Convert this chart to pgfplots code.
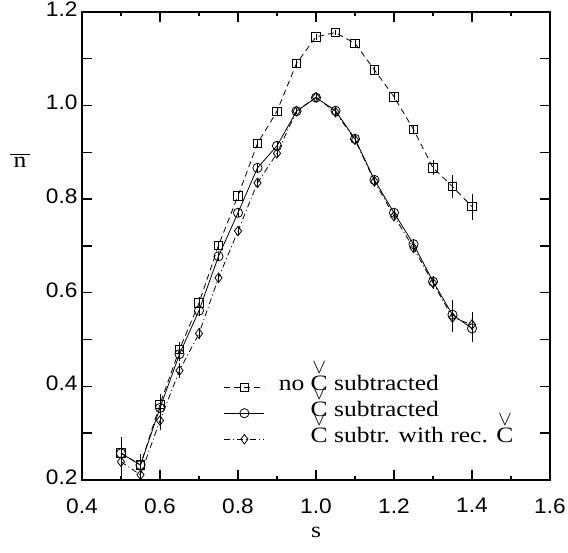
\documentclass[border=0pt]{standalone}
\usepackage{fontspec}
\setmainfont{Liberation Serif}[FakeStretch=1.16]
\newfontfamily\tickfont{Liberation Sans}[FakeStretch=1.08]
\newfontfamily\labfont{Liberation Serif}[FakeStretch=1.16]
\usepackage{graphicx}
\usepackage{pgfplots}
\pgfplotsset{compat=1.18}
\newcommand{\lf}{\fontsize{22}{26}\selectfont\labfont}
\newcommand{\Cv}{{\ooalign{C\cr\hidewidth\raisebox{0.78em}{$\vee$}\hidewidth\cr}}}

\pgfplotstableread{
x y e
0.50 0.258 0.033
0.55 0.232 0.020
0.60 0.362 0.022
0.65 0.479 0.015
0.70 0.578 0.012
0.75 0.701 0.010
0.80 0.807 0.008
0.85 0.919 0.008
0.90 0.988 0.008
0.95 1.090 0.008
1.00 1.147 0.006
1.05 1.156 0.006
1.10 1.133 0.008
1.15 1.076 0.008
1.20 1.019 0.008
1.25 0.949 0.010
1.30 0.867 0.016
1.35 0.827 0.025
1.40 0.784 0.028
}\nosub

\pgfplotstableread{
x y e
0.50 0.257 0.032
0.55 0.232 0.023
0.60 0.354 0.022
0.65 0.469 0.015
0.70 0.562 0.012
0.75 0.678 0.010
0.80 0.771 0.008
0.85 0.867 0.008
0.90 0.914 0.008
0.95 0.988 0.006
1.00 1.017 0.006
1.05 0.989 0.006
1.10 0.929 0.006
1.15 0.841 0.008
1.20 0.771 0.008
1.25 0.704 0.010
1.30 0.624 0.012
1.35 0.553 0.031
1.40 0.524 0.029
}\sub

\pgfplotstableread{
x y e
0.50 0.239 0.030
0.55 0.211 0.020
0.60 0.327 0.020
0.65 0.434 0.015
0.70 0.513 0.012
0.75 0.632 0.010
0.80 0.732 0.008
0.85 0.835 0.008
0.90 0.898 0.008
0.95 0.988 0.006
1.00 1.018 0.006
1.05 0.986 0.006
1.10 0.927 0.006
1.15 0.838 0.008
1.20 0.764 0.008
1.25 0.696 0.010
1.30 0.621 0.012
1.35 0.547 0.030
1.40 0.532 0.028
}\subrec

\begin{document}
\begin{tikzpicture}
\begin{axis}[
  width=468pt, height=468pt, scale only axis,
  xmin=0.4, xmax=1.6, ymin=0.2, ymax=1.2,
  xtick={0.4,0.6,0.8,1.0,1.2,1.4,1.6},
  minor xtick={0.5,0.7,0.9,1.1,1.3,1.5},
  ytick={0.2,0.4,0.6,0.8,1.0,1.2},
  extra y ticks={0.3,0.5,0.7,0.9,1.1}, extra y tick labels={},
  tick align=inside,
  major tick length=10pt, minor tick length=4pt,
  axis line style={line width=1.6pt},
  every tick/.style={black, line width=1.4pt},
  /pgf/number format/assume math mode=true,
  tick label style={font=\fontsize{21}{21}\selectfont\tickfont},
  xticklabel={\pgfmathprintnumber[fixed,fixed zerofill,precision=1]{\tick}},
  yticklabel={\pgfmathprintnumber[fixed,fixed zerofill,precision=1]{\tick}},
  xticklabel style={yshift=-15pt},
  yticklabel style={xshift=-1pt, yshift=3pt},
  xlabel={\lf s},
  xlabel style={at={(axis description cs:0.5,-0.1235)}, anchor=base},
  ylabel={\lf\vbox{\hrule width 20pt height 0.8pt\vskip 3pt\hbox to 20pt{\hss n\hss}}},
  ylabel style={rotate=-90, at={(axis description cs:-0.1325,0.667)}, anchor=base},
  legend style={at={(axis description cs:0.303,0.2265)}, anchor=north west, draw=none, fill=none,
    inner sep=0pt, font=\lf, row sep=0pt, column sep=0pt,
    nodes={inner xsep=5pt, inner ysep=0pt, text height=16pt, text depth=10pt},
    /tikz/every odd column/.append style={column sep=9pt},
    cells={anchor=west}},
  legend image code/.code={\draw[mark repeat=2,mark phase=2] plot coordinates {(0pt,0pt) (20pt,0pt) (40pt,0pt)};},
  error bars/error bar style={solid, line width=0.8pt, black},
]
\coordinate (O) at (rel axis cs:0,0);
\addplot[black, line width=0.8pt, dash pattern=on 6pt off 4pt, mark=square, mark size=4.2pt, mark options={solid},
  error bars/.cd, y dir=both, y explicit, error mark=none]
  table[x=x, y=y, y error=e] {\nosub};
\addlegendentry{\lf no \Cv\ subtracted}
\addplot[black, line width=0.8pt, solid, mark=o, mark size=4.6pt,
  error bars/.cd, y dir=both, y explicit, error mark=none]
  table[x=x, y=y, y error=e] {\sub};
\addlegendentry{\lf\phantom{no }\Cv\ subtracted}
\addplot[black, line width=0.8pt, dash pattern=on 6pt off 3pt on 1pt off 3pt, mark=diamond, mark size=4.8pt, mark options={solid},
  error bars/.cd, y dir=both, y explicit, error mark=none]
  table[x=x, y=y, y error=e] {\subrec};
\addlegendentry{\lf\phantom{no }\Cv\ subtr. with rec. \Cv}
\end{axis}
\pgfresetboundingbox
\path ([shift={(-82pt,-72pt)}]O) rectangle ++(568pt,552pt);
\end{tikzpicture}
\end{document}
